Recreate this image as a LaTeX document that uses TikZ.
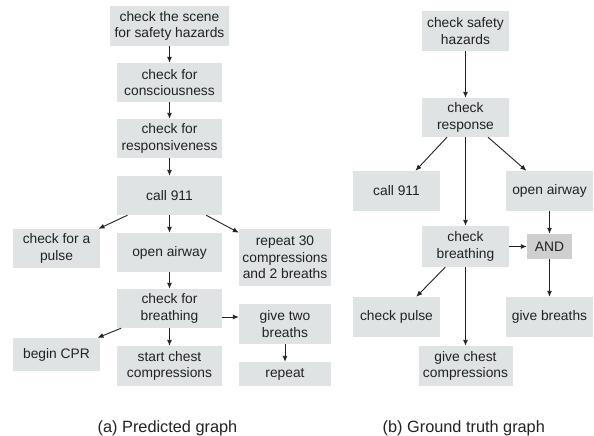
\documentclass[tikz,border=0pt]{standalone}
\usepackage{fontspec}
\setmainfont{Liberation Sans}
\usetikzlibrary{arrows.meta}
\definecolor{boxfill}{HTML}{DFE3E3}
\definecolor{andfill}{HTML}{CFCFCF}
\definecolor{ink}{HTML}{222222}
\begin{document}
\begin{tikzpicture}[x=1pt,y=-1pt,
  box/.style={fill=boxfill, text=ink, inner sep=0pt, align=center,
    font=\fontsize{13.8}{16.3}\selectfont},
  gatebox/.style={box, fill=andfill},
  arr/.style={draw=ink, line width=0.9pt, -{Latex[length=6pt,width=5pt]}},
  caption/.style={text=ink, anchor=base, font=\fontsize{16.3}{19}\selectfont}]
\useasboundingbox[fill=white] (0,0) rectangle (594,436);

% ---- (a) predicted graph ----
\node[box, minimum width=119pt, minimum height=40pt] (scene) at (169.5,26) {check the scene\\for safety hazards};
\node[box, minimum width=105pt, minimum height=39pt] (consc) at (169.5,82.5) {check for\\consciousness};
\node[box, minimum width=105pt, minimum height=39pt] (resp) at (169.5,138.5) {check for\\responsiveness};
\node[box, minimum width=105pt, minimum height=39pt] (calla) at (169.5,195.5) {call 911};
\node[box, minimum width=87pt, minimum height=39pt] (pulsea) at (56.5,248.5) {check for a\\pulse};
\node[box, minimum width=105pt, minimum height=39pt] (airwaya) at (169.5,252.5) {open airway};
\node[box, minimum width=92pt, minimum height=57pt] (rep30) at (285,257.5) {repeat 30\\compressions\\and 2 breaths};
\node[box, minimum width=105pt, minimum height=39pt] (breatha) at (169.5,308.5) {check for\\breathing};
\node[box, minimum width=92pt, minimum height=40pt] (twob) at (285,324) {give two\\breaths};
\node[box, minimum width=87pt, minimum height=33pt] (cpr) at (56.5,354.5) {begin CPR};
\node[box, minimum width=105pt, minimum height=40pt] (chesta) at (169.5,366) {start chest\\compressions};
\node[box, minimum width=92pt, minimum height=24pt] (again) at (285,374) {repeat};

\draw[arr] (scene) -- (consc);
\draw[arr] (consc) -- (resp);
\draw[arr] (resp) -- (calla);
\draw[arr] (calla) -- (pulsea);
\draw[arr] (calla) -- (airwaya);
\draw[arr] (calla) -- (rep30);
\draw[arr] (airwaya) -- (breatha);
\draw[arr] (breatha) -- (cpr);
\draw[arr] (breatha) -- (chesta);
\coordinate (bt) at ([yshift=-8.5pt]breatha.east);
\draw[arr] (bt) -- (bt -| twob.west);
\draw[arr] (twob) -- (again);

\node[caption] (capa) at (167.5,432) {(a) Predicted graph};

% ---- (b) ground truth graph ----
\node[box, minimum width=87pt, minimum height=40pt] (safe) at (465.5,31) {check safety\\hazards};
\node[box, minimum width=87pt, minimum height=39pt] (respb) at (465.5,117.5) {check\\response};
\node[box, minimum width=87pt, minimum height=40pt] (callb) at (396.5,191) {call 911};
\node[box, minimum width=87pt, minimum height=40pt] (airwayb) at (549.5,191) {open airway};
\node[box, minimum width=87pt, minimum height=41pt] (breathb) at (465.5,246.5) {check\\breathing};
\node[gatebox, minimum width=45pt, minimum height=25pt] (and) at (549.5,246.5) {AND};
\node[box, minimum width=87pt, minimum height=40pt] (pulseb) at (396.5,317) {check pulse};
\node[box, minimum width=87pt, minimum height=40pt] (givebr) at (549.5,317) {give breaths};
\node[box, minimum width=94pt, minimum height=40pt] (chestb) at (465.5,366) {give chest\\compressions};

\draw[arr] (safe) -- (respb);
\draw[arr] (respb) -- (callb);
\draw[arr] (respb) -- (airwayb);
\draw[arr] (respb) -- (breathb);
\draw[arr] (airwayb) -- (and);
\draw[arr] (breathb) -- (and);
\draw[arr] (and) -- (givebr);
\draw[arr] (breathb) -- (pulseb);
\draw[arr] (breathb) -- (chestb);

\node[caption] (capb) at (463.8,432) {(b) Ground truth graph};
\end{tikzpicture}
\end{document}
